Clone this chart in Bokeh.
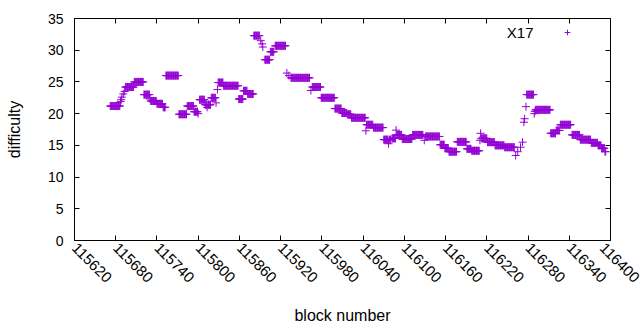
import math
from bokeh.plotting import figure
from bokeh.models import FixedTicker, LinearAxis, Legend, LegendItem, Label, ColumnDataSource
from bokeh.embed import file_html
from bokeh.resources import INLINE
from bokeh.core.properties import value

# ---- data: runs of consecutive blocks sharing one difficulty ----
run_start = [115672, 115687, 115688, 115689, 115691, 115693, 115694, 115707, 115721, 115730,
             115731, 115740, 115749, 115753, 115772, 115784, 115794, 115800, 115802, 115810,
             115813, 115814, 115819, 115826, 115828, 115829, 115837, 115859, 115866, 115872,
             115881, 115891, 115893, 115894, 115897, 115905, 115912, 115929, 115932, 115935,
             115964, 115966, 115979, 115999, 116009, 116017, 116023, 116044, 116045, 116055,
             116070, 116077, 116078, 116082, 116088, 116089, 116097, 116112, 116129, 116131,
             116152, 116159, 116165, 116177, 116191, 116198, 116210, 116211, 116212, 116221,
             116232, 116246, 116262, 116265, 116269, 116272, 116274, 116275, 116277, 116278,
             116289, 116290, 116291, 116313, 116321, 116327, 116344, 116356, 116372, 116382,
             116387, 116392]
run_end = [115686, 115687, 115688, 115689, 115691, 115693, 115706, 115720, 115729, 115730,
           115739, 115748, 115752, 115771, 115783, 115793, 115799, 115800, 115809, 115812,
           115813, 115818, 115825, 115826, 115828, 115836, 115858, 115865, 115871, 115880,
           115889, 115891, 115893, 115894, 115904, 115910, 115927, 115929, 115932, 115962,
           115964, 115978, 115998, 116008, 116016, 116022, 116043, 116044, 116054, 116069,
           116076, 116077, 116080, 116087, 116088, 116096, 116111, 116127, 116129, 116151,
           116158, 116164, 116176, 116190, 116197, 116209, 116210, 116211, 116220, 116231,
           116245, 116260, 116262, 116265, 116269, 116272, 116274, 116275, 116277, 116288,
           116289, 116290, 116312, 116320, 116326, 116342, 116355, 116371, 116381, 116386,
           116391, 116393]
run_diff = [21.2, 21.9, 22.2, 22.6, 23.1, 23.5, 24.2, 25.0, 23.0, 22.3,
            22.0, 21.55, 21.0, 26.0, 19.9, 21.2, 20.3, 20.0, 22.2, 21.4,
            21.0, 21.4, 22.5, 21.7, 23.8, 24.9, 24.4, 22.3, 23.6, 23.1,
            32.3, 31.5, 31.0, 30.5, 28.5, 29.75, 30.7, 26.4, 26.0, 25.65,
            23.65, 24.2, 22.5, 20.8, 20.1, 19.9, 19.35, 17.3, 18.25, 17.8,
            15.9, 15.25, 15.9, 16.1, 17.4, 16.65, 16.0, 16.65, 15.8, 16.4,
            15.1, 14.55, 14.0, 15.55, 14.45, 14.15, 15.8, 16.9, 16.1, 15.5,
            15.0, 14.7, 13.4, 14.0, 14.7, 15.5, 18.65, 19.2, 21.1, 23.0,
            20.0, 20.35, 20.6, 16.9, 17.35, 18.25, 16.65, 15.9, 15.4, 15.0,
            14.55, 14.0]

x_ticks = [115620, 115680, 115740, 115800, 115860, 115920, 115980, 116040,
           116100, 116160, 116220, 116280, 116340, 116400]
x_tick_labels = ["115620", "115680", "115740", "115800", "115860", "115920", "115980",
                 "116040", "116100", "116160", "116220", "116280", "116340", "116400"]
y_ticks = [0, 5, 10, 15, 20, 25, 30, 35]
series_name = "X17"

blocks, diffs = [], []
for s, e, d in zip(run_start, run_end, run_diff):
    for b in range(s, e + 1):
        blocks.append(b)
        diffs.append(d)

COLOR = "#9400D3"
FONT = "Liberation Sans"

p = figure(width=640, height=330, x_range=(115620, 116400), y_range=(0, 35),
           output_backend="svg", toolbar_location=None,
           min_border_left=74, min_border_right=30, min_border_top=18, min_border_bottom=90)
p.xgrid.visible = False
p.ygrid.visible = False
p.outline_line_color = "black"
p.outline_line_width = 1
p.background_fill_color = "white"

src = ColumnDataSource(dict(block=blocks, diff=diffs))
r = p.scatter("block", "diff", source=src, marker="cross", size=8, line_color=COLOR, line_width=1)

def style_axis(ax, ticks, fs, show_labels=True):
    ax.ticker = FixedTicker(ticks=ticks)
    ax.axis_line_color = None
    ax.major_tick_in = 5
    ax.major_tick_out = 0
    ax.major_tick_line_color = "black"
    ax.minor_tick_line_color = None
    ax.major_label_text_font = FONT
    ax.major_label_text_font_size = fs
    ax.major_label_text_color = "black"
    if not show_labels:
        ax.major_label_overrides = {t: "" for t in ticks}
        ax.major_label_standoff = 0
    ax.axis_label_text_font = FONT
    ax.axis_label_text_font_size = "16px"
    ax.axis_label_text_font_style = "normal"
    ax.axis_label_text_color = "black"

xa = p.xaxis[0]
ya = p.yaxis[0]
style_axis(xa, x_ticks, "15px")
style_axis(ya, y_ticks, "14px")
xa.major_label_overrides = dict(zip(x_ticks, x_tick_labels))
xa.axis_label = "block number"
ya.axis_label = "difficulty"
xa.major_label_orientation = -math.pi / 4
xa.major_label_standoff = 5
xa.axis_label_standoff = 17
ya.major_label_standoff = 11
ya.axis_label_standoff = 22

top = LinearAxis()
right = LinearAxis()
p.add_layout(top, "above")
p.add_layout(right, "right")
style_axis(top, x_ticks, "14px", False)
style_axis(right, y_ticks, "14px", False)

leg = Legend(items=[LegendItem(label=value(""), renderers=[r])],
             location=(486, 201), padding=0, margin=0, spacing=0,
             glyph_width=14, glyph_height=14, label_width=0, label_height=14,
             label_standoff=0, label_text_font_size="1px",
             border_line_color=None, background_fill_alpha=0)
p.add_layout(leg, "center")

lbl = Label(x=459, y=208, x_units="screen", y_units="screen", text=series_name,
            text_align="right", text_baseline="middle", text_font=FONT,
            text_font_size="15px", text_color="black")
p.add_layout(lbl)

open("out.html", "w").write(file_html(p, INLINE))
